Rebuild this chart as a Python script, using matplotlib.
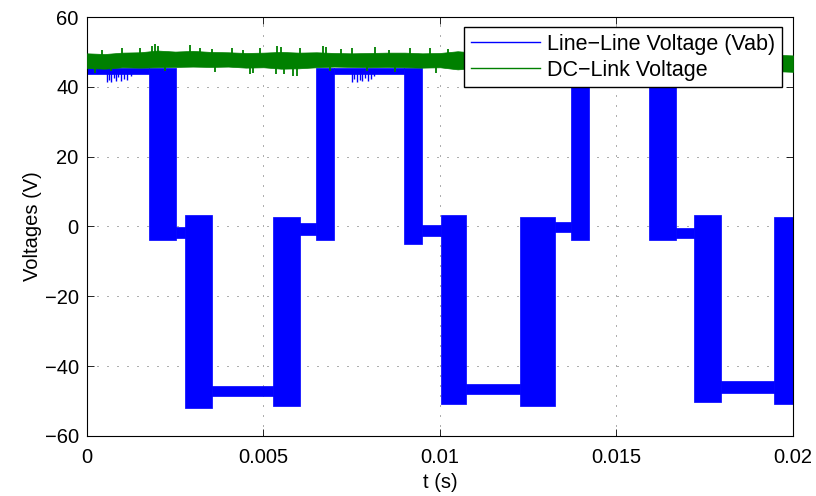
import numpy as np
import matplotlib as mpl
mpl.use('Agg')
import matplotlib.pyplot as plt
from matplotlib.lines import Line2D

plt.rcParams['font.family'] = ['Liberation Sans', 'DejaVu Sans']

## Vab: flat steps and PWM switching bands (start time, lower / upper envelope)
seg_start = [0.0, 0.001765, 0.002521, 0.002785, 0.003541, 0.005278, 0.006034,
             0.006487, 0.006997, 0.00898, 0.00949, 0.010028, 0.010737, 0.012266,
             0.013258, 0.013711, 0.014221, 0.015921, 0.016686, 0.017195, 0.01796,
             0.019462]
seg_low = [43.6, -4.0, -3.4, -51.9, -48.6, -51.3, -2.4,
           -4.0, 43.6, -4.9, -2.6, -50.8, -47.9, -51.3,
           -1.7, -4.0, 43.6, -4.0, -3.2, -50.4, -47.6,
           -50.8]
seg_high = [45.5, 45.5, -0.2, 3.2, -45.8, 2.7, 0.9,
            45.5, 45.5, 45.5, 0.3, 3.2, -45.0, 2.7,
            1.2, 45.5, 45.5, 45.5, -0.3, 3.2, -44.3,
            2.7]
t_end = 0.02

## short dips of Vab on the positive steps
dip_t = [0.000567, 0.000623, 0.00068, 0.000765, 0.000822, 0.000878, 0.000963,
         0.001048, 0.001133, 0.001246,
         0.007507, 0.007564, 0.007649, 0.007734, 0.00779, 0.007875, 0.00796,
         0.008045, 0.00813]
dip_v = [41.5, 42.0, 41.3, 42.5, 41.8, 42.8, 41.6, 42.3, 42.0, 43.0,
         41.5, 42.2, 41.3, 42.0, 41.8, 42.5, 41.6, 42.3, 43.0]

## DC-link ripple envelope, sampled every 0.5 ms
dc_t = np.linspace(0, 0.02, 41)
dc_high = [49.6, 49.4, 49.8, 49.9, 50.4, 50.1, 50.3, 50.0, 49.9, 49.7,
           49.8, 50.0, 49.8, 49.9, 49.7, 49.6, 49.7, 49.8, 49.8, 49.6,
           49.7, 50.2, 49.8, 49.7, 49.7, 49.8, 49.7, 49.6, 49.7, 49.8,
           49.7, 49.6, 49.7, 49.7, 49.6, 49.5, 49.5, 49.4, 49.3, 49.2,
           49.0]
dc_low = [45.4, 45.2, 45.6, 45.5, 45.6, 45.7, 45.8, 45.7, 45.8, 45.5,
          45.6, 45.2, 45.3, 45.6, 45.8, 45.7, 45.6, 45.7, 45.6, 45.5,
          45.6, 45.0, 45.4, 45.5, 45.5, 45.4, 45.5, 45.4, 45.5, 45.4,
          45.3, 45.4, 45.3, 45.2, 45.1, 45.0, 44.9, 44.8, 44.7, 44.5,
          44.3]
## ripple spikes poking out of the envelope
spike_up_t = [0.000425, 0.000992, 0.001501, 0.001841, 0.001926, 0.002011, 0.002918,
              0.003201, 0.003540, 0.004108, 0.004420, 0.004901, 0.005382, 0.005496,
              0.006034, 0.006686, 0.006771, 0.007210, 0.007507, 0.008159, 0.008560,
              0.00915, 0.009717, 0.010227]
spike_up_v = [50.6, 51.0, 51.2, 51.8, 52.2, 51.6, 52.0,
              51.0, 50.7, 51.2, 50.6, 51.0, 51.6, 51.3,
              51.0, 51.7, 51.4, 50.7, 51.0, 51.3, 50.6,
              51.2, 51.0, 50.8]
spike_dn_t = [0.000227, 0.00068, 0.00221, 0.003626, 0.004618, 0.004703, 0.005354,
              0.005581, 0.005836, 0.005949, 0.006884, 0.00792, 0.008725, 0.009887]
spike_dn_v = [44.0, 44.6, 44.5, 44.3, 43.8, 44.0, 43.8,
              43.6, 43.2, 43.0, 44.4, 44.6, 44.2, 44.0]

blue = (0, 0, 1)
green = (0, 0.5, 0)

fig = plt.figure(figsize=(8.16, 4.96), dpi=100)
ax = fig.add_axes([0.1066, 0.121, 0.8652, 0.8447])

seg_end = seg_start[1:] + [t_end]
for t0, t1, lo, hi in zip(seg_start, seg_end, seg_low, seg_high):
    ax.fill_between([t0, t1], [lo, lo], [hi, hi], color=blue, lw=0.5, zorder=2)
ax.vlines(dip_t, dip_v, 44.0, color=blue, lw=1.0, zorder=2)

ax.fill_between(dc_t, dc_low, dc_high, color=green, lw=0.5, zorder=3)
ax.vlines(spike_up_t, 49.0, spike_up_v, color=green, lw=1.3, zorder=3)
ax.vlines(spike_dn_t, spike_dn_v, 46.0, color=green, lw=1.3, zorder=3)

ax.set_xlim(0, 0.02)
ax.set_ylim(-60, 60)
ax.set_xticks([0, 0.005, 0.01, 0.015, 0.02])
ax.set_xticklabels(['0', '0.005', '0.01', '0.015', '0.02'])
ax.set_yticks(np.arange(-60, 61, 20))
ax.tick_params(direction='in', length=5, width=0.6, top=True, right=True,
               labelsize=14.5)
ax.tick_params(axis='x', pad=9)
ax.tick_params(axis='y', pad=6)
for s in ax.spines.values():
    s.set_linewidth(0.8)
ax.grid(True, color=(0.25, 0.25, 0.25), linewidth=0.6, linestyle=(0, (1.2, 10.8)))
ax.set_axisbelow(True)

ax.set_xlabel('t (s)', fontsize=14.5, labelpad=4)
ax.set_ylabel('Voltages (V)', fontsize=14.5, labelpad=2)

handles = [Line2D([], [], color=blue, lw=1.0), Line2D([], [], color=green, lw=1.0)]
leg = ax.legend(handles, ['Line\u2212Line Voltage (Vab)', 'DC\u2212Link Voltage'],
                loc='upper right', bbox_to_anchor=(0.984, 0.976), borderaxespad=0,
                fontsize=15.5, handlelength=3.2, handletextpad=0.35,
                labelspacing=0.25, borderpad=0.3, fancybox=False, framealpha=1)
leg.get_frame().set_edgecolor('black')
leg.get_frame().set_linewidth(1.0)
leg.set_zorder(5)

fig.savefig('out.png', dpi=100)
